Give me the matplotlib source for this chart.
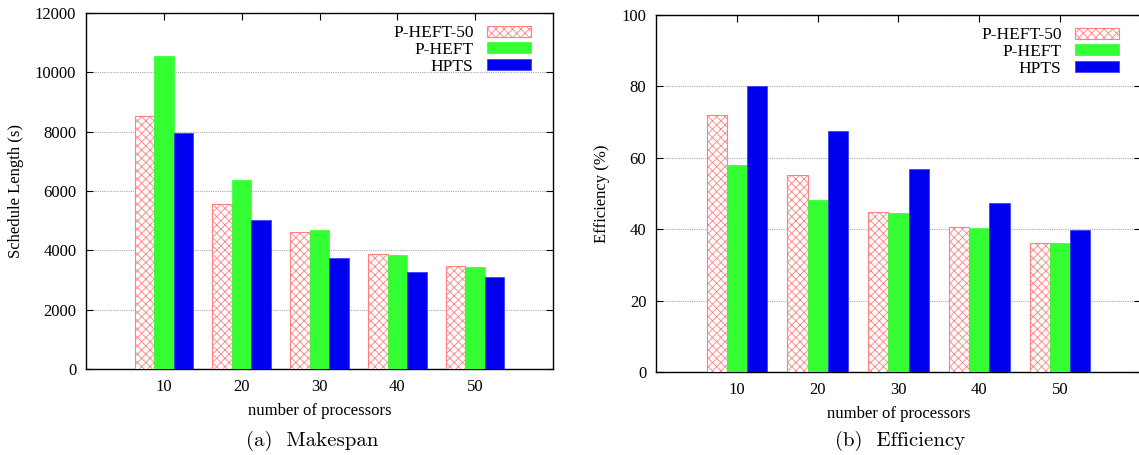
import numpy as np
import matplotlib
matplotlib.use('Agg')
import matplotlib.pyplot as plt

# data
procs = ['10', '20', '30', '40', '50']
series = ['P-HEFT-50', 'P-HEFT', 'HPTS']
makespan_pheft50 = [8530, 5570, 4630, 3860, 3465]
makespan_pheft = [10560, 6385, 4685, 3840, 3445]
makespan_hpts = [7970, 5010, 3735, 3275, 3095]
eff_pheft50 = [71.9, 55.1, 44.8, 40.5, 36.0]
eff_pheft = [57.9, 48.1, 44.4, 40.2, 36.2]
eff_hpts = [80.0, 67.5, 56.9, 47.3, 39.7]

plt.rcParams['font.family'] = ['Liberation Serif', 'DejaVu Serif']
plt.rcParams['hatch.linewidth'] = 0.6

fig = plt.figure(figsize=(11.39, 4.55), dpi=100)
ax1 = fig.add_axes([86 / 1139, 86 / 455, 467 / 1139, 356 / 455])
ax2 = fig.add_axes([656 / 1139, 83 / 455, 485 / 1139, 357 / 455])


def draw(ax, a, b, c, ymax, ystep, ylabel, axw):
    x = np.arange(1, len(procs) + 1)
    w = 0.25
    ax.bar(x - w, a, w, color='white', edgecolor='#ff8080', hatch='xxxx',
           linewidth=0.8, label=series[0], zorder=3)
    ax.bar(x, b, w, color='#33ff33', edgecolor='#33ff33', linewidth=0.5,
           label=series[1], zorder=3)
    ax.bar(x + w, c, w, color='#0000f0', edgecolor='#3333ff', linewidth=0.5,
           label=series[2], zorder=3)
    ax.set_xlim(0, 6)
    ax.set_ylim(0, ymax)
    ax.set_xticks(x)
    ax.set_xticklabels(procs)
    ax.set_yticks(np.arange(0, ymax + 1, ystep))
    ax.tick_params(direction='in', top=True, right=True, length=5,
                   labelsize=12, width=0.8, pad=7)
    ax.yaxis.grid(True, color='#aaaaaa', linestyle=(0, (1, 1)), linewidth=0.8,
                  zorder=0)
    for s in ax.spines.values():
        s.set_linewidth(1.0)
    ax.set_xlabel('number of processors', fontsize=12, labelpad=6)
    ax.set_ylabel(ylabel, fontsize=12, labelpad=8)
    ax.legend(loc='upper right', frameon=False, markerfirst=False,
              fontsize=12.5, handlelength=2.5, handleheight=0.6,
              labelspacing=0.05, borderaxespad=0.3, handletextpad=0.8,
              bbox_to_anchor=(1 - 10 / axw, 1))


draw(ax1, makespan_pheft50, makespan_pheft, makespan_hpts, 12000, 2000,
     'Schedule Length (s)', 467)
draw(ax2, eff_pheft50, eff_pheft, eff_hpts, 100, 20, 'Efficiency (%)', 485)

fig.text(312 / 1139, 1 - 441 / 455, '(a)  Makespan', family='cmr10',
         fontsize=15, ha='center', va='center')
fig.text(900 / 1139, 1 - 441 / 455, '(b)  Efficiency', family='cmr10',
         fontsize=15, ha='center', va='center')

fig.savefig('out.png', dpi=100)
